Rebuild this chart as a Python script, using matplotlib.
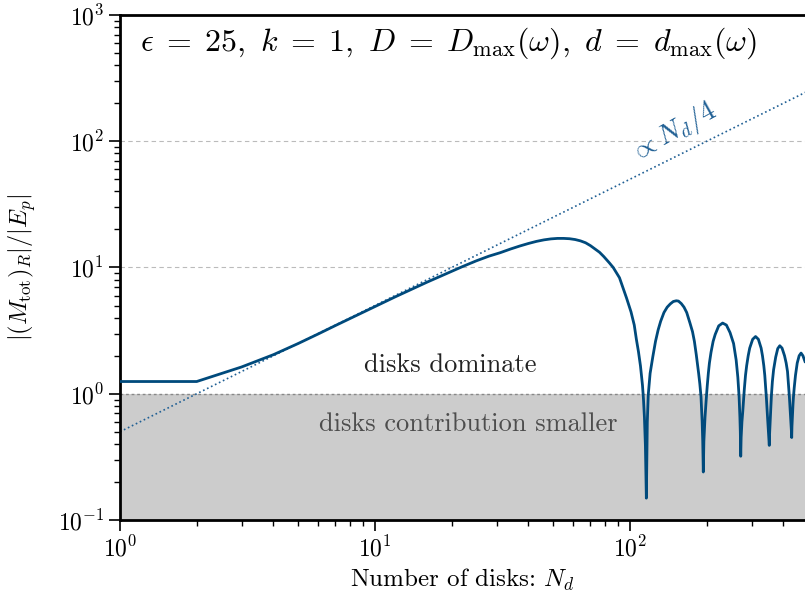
import matplotlib
matplotlib.use("Agg")
import matplotlib.pyplot as plt

plt.rcParams["font.family"] = "serif"
plt.rcParams["font.serif"] = ["cmr10"]
plt.rcParams["mathtext.fontset"] = "cm"
plt.rcParams["axes.formatter.use_mathtext"] = True

# |(M_tot)_R| / |E_p| versus number of disks
n_disks = [1, 2, 3, 4, 5, 6, 7, 8, 9, 10, 12, 14, 16, 18, 20, 22, 25, 28,
           31, 34, 37, 40, 43, 46, 49, 52, 55, 58, 61, 64, 67, 70, 72, 76,
           79, 83, 86, 91, 97, 101, 104, 106, 108, 110, 112, 113, 114, 115,
           116, 117, 118, 120, 123, 126, 129, 132, 136, 140, 144, 148, 152,
           155, 159, 163, 167, 172, 176, 179, 182, 186, 188, 190, 192, 193,
           194, 195, 197, 199, 201, 203, 205, 208, 212, 216, 223, 231, 239,
           247, 255, 261, 265, 268, 270, 271, 272, 273, 275, 277, 279, 281,
           284, 287, 291, 295, 303, 311, 319, 327, 331, 335, 338, 341, 343,
           345, 347, 349, 351, 352, 353, 355, 357, 359, 362, 366, 373, 380,
           387, 395, 404, 410, 415, 419, 422, 425, 428, 430, 431, 432, 434,
           436, 438, 441, 446, 453, 461, 469, 477, 486]
ratio = [1.25, 1.25, 1.63, 2.04, 2.5, 2.98, 3.47, 3.95, 4.43, 4.9, 5.85,
         6.75, 7.65, 8.5, 9.35, 10.15, 11.3, 12.3, 13.1, 14.0, 14.8, 15.5,
         16.1, 16.55, 16.85, 17.0, 17.0, 16.9, 16.65, 16.25, 15.7, 14.9,
         14.3, 13.2, 12.2, 10.9, 10.0, 8.3, 5.73, 4.45, 3.5, 2.7, 2.16,
         1.66, 1.17, 0.91, 0.65, 0.39, 0.149, 0.6, 0.98, 1.45, 1.97, 2.6,
         3.2, 3.75, 4.4, 4.85, 5.15, 5.38, 5.45, 5.42, 5.18, 4.85, 4.4,
         3.63, 3.1, 2.6, 2.05, 1.45, 1.2, 0.95, 0.6, 0.42, 0.24, 0.42, 0.65,
         0.88, 1.15, 1.45, 1.75, 2.13, 2.6, 2.95, 3.45, 3.63, 3.5, 3.05, 2.5,
         1.85, 1.35, 0.95, 0.65, 0.5, 0.32, 0.45, 0.6, 0.72, 0.9, 1.09, 1.4,
         1.67, 2.0, 2.3, 2.7, 2.84, 2.7, 2.3, 2.0, 1.67, 1.4, 1.09, 0.92,
         0.75, 0.62, 0.52, 0.45, 0.39, 0.48, 0.62, 0.78, 0.98, 1.25, 1.55,
         1.95, 2.28, 2.4, 2.3, 2.0, 1.75, 1.5, 1.15, 0.95, 0.75, 0.6, 0.5,
         0.45, 0.55, 0.68, 0.82, 0.95, 1.12, 1.4, 1.75, 2.0, 2.1, 2.0, 1.8]

# linear guide drawn as dotted line
guide_n = [1, 500]
guide_ratio = [0.5, 250]

shade_n = [1, 500]
shade_low = [0.1, 0.1]
shade_high = [1.0, 1.0]

blue = "#004a7c"

fig = plt.figure(figsize=(8.05, 6.02), dpi=100)
ax = fig.add_axes([0.149, 0.1362, 0.851, 0.8389])

ax.fill_between(shade_n, shade_low, shade_high, color="#cccccc", lw=0, zorder=0)
ax.axhline(1.0, color="#888888", ls=(0, (2, 2)), lw=1.0, zorder=1)
for yv in [10, 100]:
    ax.axhline(yv, color="#bbbbbb", ls=(0, (4, 3)), lw=0.8, zorder=1)

ax.plot(guide_n, guide_ratio, color="#1f5f94", ls=":", lw=1.2, zorder=2)
ax.plot(n_disks, ratio, color=blue, lw=2.0, zorder=3)

ax.set_xscale("log")
ax.set_yscale("log")
ax.set_xlim(1, 486)
ax.set_ylim(0.1, 1000)

for side in ["left", "bottom", "top"]:
    ax.spines[side].set_linewidth(2.0)
ax.spines["right"].set_visible(False)

ax.tick_params(which="major", direction="out", length=8, width=1.2,
               labelsize=17, top=False, right=False)
ax.tick_params(which="minor", direction="out", length=4, width=1.0,
               top=False, right=False)

ax.text(0.03, 0.945,
        r"$\epsilon\;=\;25,\ k\;=\;1,\ D\;=\;D_{\rm max}(\omega),\ d\;=\;d_{\rm max}(\omega)$",
        transform=ax.transAxes, fontsize=23, ha="left", va="center")
ax.text(0.482, 0.307, "disks dominate", transform=ax.transAxes,
        fontsize=19, ha="center", va="center", color="#222222")
ax.text(0.508, 0.19, "disks contribution smaller", transform=ax.transAxes,
        fontsize=19, ha="center", va="center", color="#4d4d4d")
ax.text(0.808, 0.768, r"$\propto N_d/4$", transform=ax.transAxes,
        fontsize=20, ha="center", va="center", color="#1f5f94", rotation=29)

ax.set_xlabel(r"Number of disks: $N_d$", fontsize=18)
ax.set_ylabel(r"$|(M_{\rm tot})_R|/|E_p|$", fontsize=17.5)
ax.yaxis.set_label_coords(-0.12, 0.5)

fig.savefig("out.png", dpi=100)
